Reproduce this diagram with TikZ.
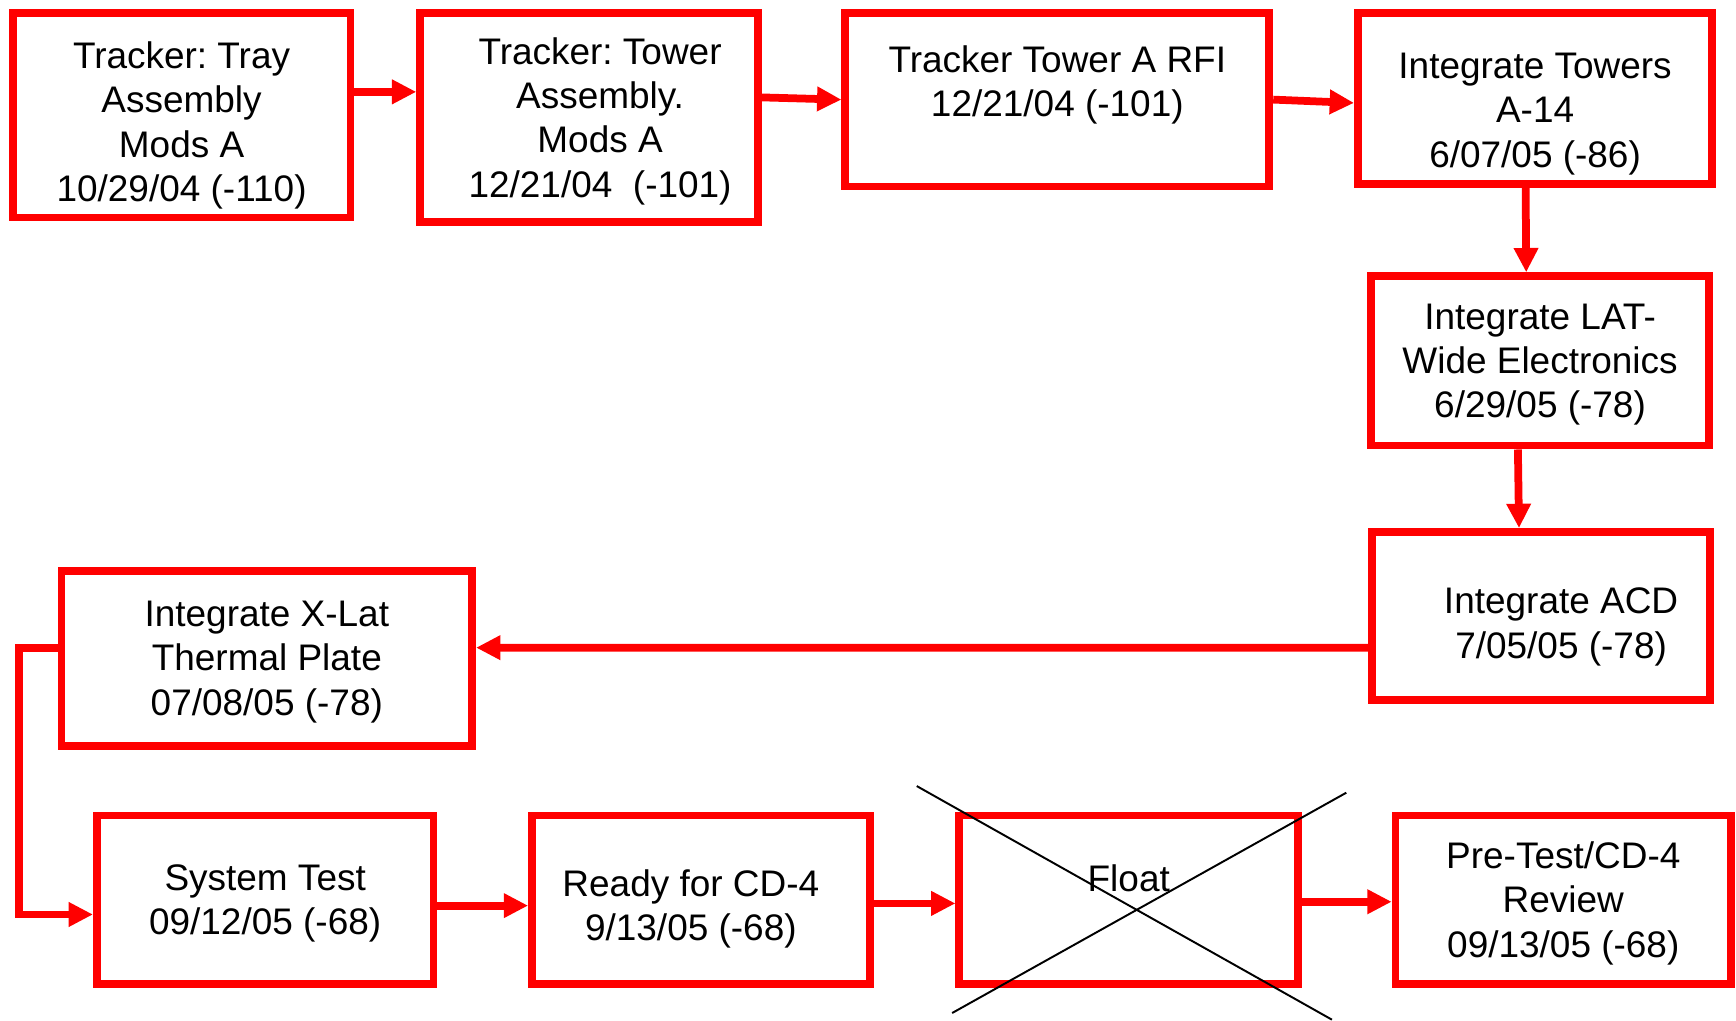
\documentclass[tikz,border=0pt]{standalone}
\usepackage{fontspec}
\setmainfont{Liberation Sans}
\usetikzlibrary{arrows.meta}
\frenchspacing
\newcommand{\padtop}[1]{\rule{0pt}{#1}}

\begin{document}
\begin{tikzpicture}[
  task/.style={draw=red, line width=0.07cm, align=center, inner sep=0pt,
    minimum width=3.05cm, minimum height=1.52cm, text depth=0pt,
    font=\fontsize{9.5}{11.4}\selectfont},
  flow/.style={draw=red, line width=0.07cm,
    -{Triangle[length=0.22cm,width=0.21cm]}},
  cross/.style={draw=black, line width=0.5pt}
]
\useasboundingbox (0,0) rectangle (15.68,9.22);

% top row
\node[task, minimum height=1.85cm] (tray) at (1.64,8.18) {\padtop{10.3pt}Tracker: Tray\\Assembly\\Mods A\\10/29/04 (-110)};
\node[task, minimum height=1.89cm] (tower) at (5.32,8.16) {\hspace*{0.2cm}Tracker: Tower\\\hspace*{0.2cm}Assembly.\\\hspace*{0.2cm}Mods A\\\hspace*{0.2cm}12/21/04~ (-101)};
\node[task, minimum width=3.83cm, minimum height=1.57cm, text depth=9.5pt] (rfi) at (9.55,8.32) {Tracker Tower A RFI\\12/21/04 (-101)};
\node[task, minimum width=3.2cm, minimum height=1.55cm] (towers) at (13.865,8.33) {\padtop{12.5pt}Integrate Towers\\A-14\\6/07/05 (-86)};

% right column
\node[task, minimum height=1.53cm] (lat) at (13.91,5.96) {Integrate LAT-\\Wide Electronics\\6/29/05 (-78)};
\node[task] (acd) at (13.92,3.655) {\padtop{10.2pt}\hspace*{0.36cm}Integrate ACD\\\hspace*{0.36cm}7/05/05 (-78)};

% thermal plate
\node[task, minimum width=3.71cm, minimum height=1.58cm] (xlat) at (2.41,3.275) {Integrate X-Lat\\Thermal Plate\\07/08/05 (-78)};

% bottom row
\node[task, minimum width=3.04cm] (systest) at (2.395,1.095) {System Test\\09/12/05 (-68)};
\node[task] (ready) at (6.33,1.095) {\padtop{9.6pt}Ready for CD-4\hspace*{0.18cm}\\9/13/05 (-68)\hspace*{0.18cm}};
\node[task, minimum width=3.06cm, text depth=11pt] (float) at (10.195,1.095) {Float};
\node[task, minimum width=3.03cm] (review) at (14.12,1.095) {Pre-Test/CD-4\\Review\\09/13/05 (-68)};

% float crossed out
\draw[cross] (8.28,2.12) -- (12.03,0.01);
\draw[cross] (8.60,0.07) -- (12.16,2.06);

\draw[flow] ([yshift=0.21cm]tray.east) -- ([yshift=0.23cm]tower.west);
\draw[flow] ([yshift=0.18cm]tower.east) -- (rfi.west);
\draw[flow] (rfi.east) -- ([yshift=-0.04cm]towers.west);
\draw[flow] ([xshift=-0.085cm]towers.south) -- ([xshift=-0.125cm]lat.north);
\draw[flow] ([xshift=-0.2cm]lat.south) -- ([xshift=-0.2cm]acd.north);
\draw[flow] ([yshift=-0.285cm]acd.west) -- ([yshift=0.095cm]xlat.east);
\draw[flow] ([yshift=0.095cm]xlat.west) -- ++(-0.35,0) |- ([yshift=-0.135cm]systest.west);
\draw[flow] ([yshift=-0.055cm]systest.east) -- ([yshift=-0.055cm]ready.west);
\draw[flow] ([yshift=-0.035cm]ready.east) -- ([yshift=-0.035cm]float.west);
\draw[flow] ([yshift=-0.02cm]float.east) -- ([yshift=-0.02cm]review.west);
\end{tikzpicture}
\end{document}
